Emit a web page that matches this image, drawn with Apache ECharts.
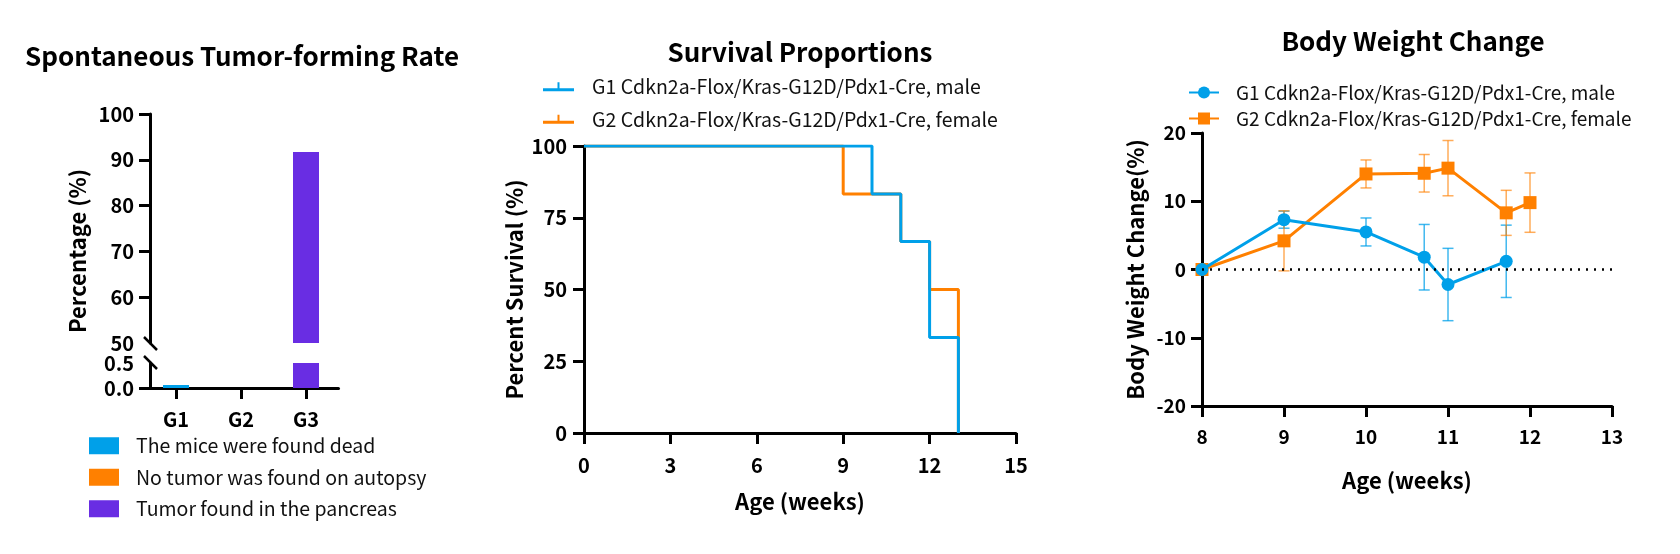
<!DOCTYPE html>
<html>
<head>
<meta charset="utf-8">
<style>
  html, body { margin: 0; background: #fff; }
  #main { width: 1680px; height: 554px; }
</style>
</head>
<body>
<div id="main"></div>
<script src="https://cdn.jsdelivr.net/npm/echarts@6/dist/echarts.min.js"></script>
<script>
// ---- spontaneous tumor-forming rate (%) ----
var groups = ['G1', 'G2', 'G3'];
var barNames = ['The mice were found dead', 'No tumor was found on autopsy', 'Tumor found in the pancreas'];
var deadPct = [0.06, 0, 0];
var noTumorPct = [0, 0, 0];
var tumorPct = [0, 0, 91.7];
var upperTicks = [50, 60, 70, 80, 90, 100];
var lowerTicks = [0, 0.5];

// ---- survival, [week, percent] ----
var g1Name = 'G1 Cdkn2a-Flox/Kras-G12D/Pdx1-Cre, male';
var g2Name = 'G2 Cdkn2a-Flox/Kras-G12D/Pdx1-Cre, female';
var survMale = [[0, 100], [10, 83.3], [11, 66.7], [12, 33.3], [13, 0]];
var survFemale = [[0, 100], [9, 83.3], [11, 66.7], [12, 50], [13, 0]];

// ---- body weight change, [week, mean %, sd] ----
var bwMale = [[8, 0, 0], [9, 7.3, 1.25], [10, 5.5, 2.05], [10.71, 1.8, 4.8], [11, -2.2, 5.3], [11.71, 1.2, 5.3]];
var bwFemale = [[8, 0, 0], [9, 4.2, 4.4], [10, 14.0, 2.05], [10.71, 14.1, 2.75], [11, 14.85, 4.05], [11.71, 8.3, 3.3], [12, 9.8, 4.35]];

var FONT = "'Noto Sans CJK SC', 'Noto Sans', sans-serif";
var BLUE = '#00A0E9', ORANGE = '#FF8000', PURPLE = '#692DE3';

var axLine = { show: true, onZero: false, lineStyle: { color: '#000', width: 3 } };
var axTick = { show: true, length: 11, lineStyle: { color: '#000', width: 3 } };
function axLabel(extra) {
  return Object.assign({ color: '#000', fontSize: 20, fontWeight: 'bold', fontFamily: FONT }, extra || {});
}
var nameStyle = { color: '#000', fontSize: 22, fontWeight: 'bold', fontFamily: FONT };

// left chart grid (broken y axis = two grids)
var barLeft = 143.5, barWidth = 195, axisShift = 6.5;
var upTop = 114, upH = 229, lowTop = 363, lowH = 25;

function barSeries(gi) {
  var vals = [deadPct, noTumorPct, tumorPct];
  var cols = [BLUE, ORANGE, PURPLE];
  return vals.map(function (v, i) {
    return {
      type: 'bar', name: barNames[i], xAxisIndex: gi, yAxisIndex: gi,
      stack: 'g' + gi, data: v, barWidth: 26, itemStyle: { color: cols[i] }
    };
  });
}

function errorBars(name, rows, color) {
  return {
    type: 'custom', name: name, xAxisIndex: 3, yAxisIndex: 3, z: 1, silent: true,
    data: rows.filter(function (r) { return r[2] > 0; })
              .map(function (r) { return [r[0], r[1] - r[2], r[1] + r[2]]; }),
    renderItem: function (params, api) {
      var lo = api.coord([api.value(0), api.value(1)]);
      var hi = api.coord([api.value(0), api.value(2)]);
      var w = 5.5;
      var st = { stroke: color, lineWidth: 1.5 };
      return {
        type: 'group', children: [
          { type: 'line', shape: { x1: lo[0], y1: lo[1], x2: hi[0], y2: hi[1] }, style: st },
          { type: 'line', shape: { x1: hi[0] - w, y1: hi[1], x2: hi[0] + w, y2: hi[1] }, style: st },
          { type: 'line', shape: { x1: lo[0] - w, y1: lo[1], x2: lo[0] + w, y2: lo[1] }, style: st }
        ]
      };
    }
  };
}

var axisX = barLeft + axisShift;
var slash = function (y) {
  return { type: 'line', shape: { x1: axisX - 6, y1: y - 6, x2: axisX + 7, y2: y + 7 }, style: { stroke: '#000', lineWidth: 2.5 } };
};
function titleText(t, x, y) {
  return { type: 'text', x: x, y: y, style: { text: t, align: 'center', verticalAlign: 'middle', fontSize: 26, fontWeight: 'bold', fontFamily: FONT, fill: '#000' } };
}

var chart = echarts.init(document.getElementById('main'));
var option = {
  animation: false,
  textStyle: { fontFamily: FONT },
  grid: [
    { left: barLeft, top: upTop, width: barWidth, height: upH, outerBoundsMode: 'none' },
    { left: barLeft, top: lowTop, width: barWidth, height: lowH, outerBoundsMode: 'none' },
    { left: 584, top: 146, width: 432, height: 287, outerBoundsMode: 'none' },
    { left: 1202, top: 133, width: 410, height: 273, outerBoundsMode: 'none' }
  ],
  legend: [
    {
      data: barNames, orient: 'vertical', left: 89, top: 436, padding: 0,
      icon: 'rect', itemWidth: 30, itemHeight: 17, itemGap: 12,
      textStyle: { fontSize: 19.5, color: '#111', fontFamily: FONT, padding: [0, 0, 0, 12] }
    },
    {
      data: [
        { name: g1Name, icon: 'path://M0,6H14.5V0H16.5V6H31V9H0Z' },
        { name: g2Name, icon: 'path://M0,6H14.5V0H16.5V6H31V9H0Z' }
      ],
      orient: 'vertical', left: 543, top: 77, padding: 0,
      itemWidth: 31, itemHeight: 9, itemGap: 13, itemStyle: { borderWidth: 0 },
      textStyle: { fontSize: 19.5, color: '#111', fontFamily: FONT, padding: [0, 0, 0, 13] }
    },
    {
      data: [g1Name, g2Name], orient: 'vertical', left: 1188, top: 83, padding: 0,
      itemWidth: 30, itemHeight: 15, itemGap: 7,
      textStyle: { fontSize: 19, color: '#111', fontFamily: FONT, padding: [0, 0, 0, 12] }
    }
  ],
  xAxis: [
    { type: 'category', gridIndex: 0, data: groups, show: false },
    {
      type: 'category', gridIndex: 1, data: groups, axisLine: axLine,
      axisTick: Object.assign({ alignWithLabel: true }, axTick),
      axisLabel: axLabel({ margin: 21 })
    },
    {
      type: 'value', gridIndex: 2, min: 0, max: 15, interval: 3, splitLine: { show: false },
      axisLine: axLine, axisTick: axTick, axisLabel: axLabel({ margin: 22 }),
      name: 'Age (weeks)', nameLocation: 'middle', nameGap: 58, nameTextStyle: nameStyle
    },
    {
      type: 'value', gridIndex: 3, min: 8, max: 13, interval: 1, splitLine: { show: false },
      axisLine: axLine, axisTick: axTick, axisLabel: axLabel({ margin: 21, fontSize: 19 }),
      name: 'Age (weeks)', nameLocation: 'middle', nameGap: 64, nameTextStyle: nameStyle
    }
  ],
  yAxis: [
    {
      type: 'value', gridIndex: 0, min: 50, max: 100, interval: 10, offset: -axisShift,
      splitLine: { show: false }, axisLine: axLine,
      axisTick: Object.assign({ customValues: upperTicks.slice(1) }, axTick),
      axisLabel: axLabel({ margin: 16, customValues: upperTicks })
    },
    {
      type: 'value', gridIndex: 1, min: 0, max: 0.5, interval: 0.5, offset: -axisShift,
      splitLine: { show: false }, axisLine: axLine,
      axisTick: Object.assign({ customValues: [lowerTicks[0]] }, axTick),
      axisLabel: axLabel({ margin: 16, customValues: lowerTicks, formatter: function (v) { return v.toFixed(1); } })
    },
    {
      type: 'value', gridIndex: 2, min: 0, max: 100, interval: 25, splitLine: { show: false },
      axisLine: axLine, axisTick: axTick, axisLabel: axLabel({ margin: 17 }),
      name: 'Percent Survival (%)', nameLocation: 'middle', nameGap: 58, nameTextStyle: nameStyle
    },
    {
      type: 'value', gridIndex: 3, min: -20, max: 20, interval: 10, splitLine: { show: false },
      axisLine: axLine, axisTick: axTick, axisLabel: axLabel({ margin: 16, fontSize: 19 }),
      name: 'Body Weight Change(%)', nameLocation: 'middle', nameGap: 55, nameTextStyle: nameStyle
    }
  ],
  series: [
    {
      type: 'line', name: g1Name, xAxisIndex: 3, yAxisIndex: 3, z: 4,
      data: bwMale.map(function (r) { return [r[0], r[1]]; }),
      symbol: 'circle', symbolSize: 13, lineStyle: { color: BLUE, width: 3 }, itemStyle: { color: BLUE },
      markLine: {
        silent: true, symbol: 'none', label: { show: false }, animation: false,
        lineStyle: { color: '#000', type: [2, 6], width: 2.5 }, data: [{ yAxis: 0 }]
      }
    },
    {
      type: 'line', name: g2Name, xAxisIndex: 3, yAxisIndex: 3, z: 3,
      data: bwFemale.map(function (r) { return [r[0], r[1]]; }),
      symbol: 'rect', symbolSize: 13, lineStyle: { color: ORANGE, width: 3 }, itemStyle: { color: ORANGE }
    },
    {
      type: 'line', name: g1Name, xAxisIndex: 2, yAxisIndex: 2, z: 4, step: 'end', symbol: 'none',
      data: survMale, lineStyle: { color: BLUE, width: 3 }, itemStyle: { color: BLUE }
    },
    {
      type: 'line', name: g2Name, xAxisIndex: 2, yAxisIndex: 2, z: 3, step: 'end', symbol: 'none',
      data: survFemale, lineStyle: { color: ORANGE, width: 3 }, itemStyle: { color: ORANGE }
    }
  ].concat(barSeries(0), barSeries(1), [
    errorBars(g1Name, bwMale, 'rgba(0,160,233,0.75)'),
    errorBars(g2Name, bwFemale, 'rgba(255,128,0,0.65)')
  ]),
  graphic: [
    titleText('Spontaneous Tumor-forming Rate', 242, 56),
    titleText('Survival Proportions', 800, 52),
    titleText('Body Weight Change', 1413, 41),
    {
      type: 'text', x: 78, y: (upTop + lowTop + lowH) / 2, rotation: Math.PI / 2,
      style: { text: 'Percentage (%)', align: 'center', verticalAlign: 'middle', fontSize: 22, fontWeight: 'bold', fontFamily: FONT, fill: '#000' }
    },
    slash(upTop + upH),
    slash(lowTop - 1)
  ]
};
chart.setOption(option);
window.addEventListener('resize', chart.resize);
</script>
</body>
</html>
